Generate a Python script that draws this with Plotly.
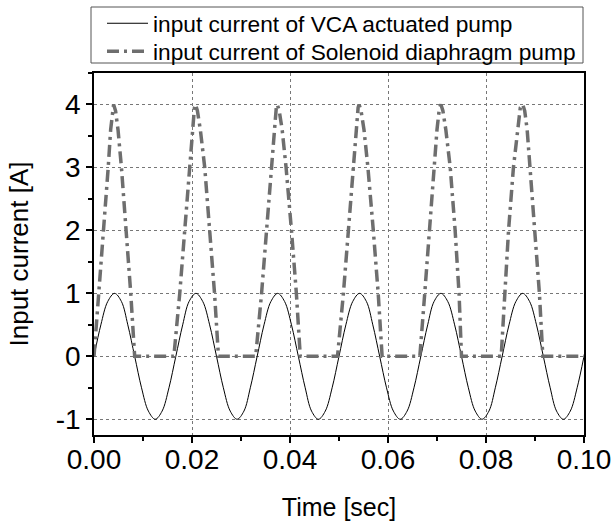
import plotly.graph_objects as go

# ---- data ----
time_vca = [0.0000, 0.0014, 0.0028, 0.0042, 0.0056, 0.0069, 0.0083, 0.0097, 0.0111, 0.0125,
            0.0139, 0.0153, 0.0167, 0.0181, 0.0194, 0.0208, 0.0222, 0.0236, 0.0250, 0.0264,
            0.0278, 0.0292, 0.0306, 0.0319, 0.0333, 0.0347, 0.0361, 0.0375, 0.0389, 0.0403,
            0.0417, 0.0431, 0.0444, 0.0458, 0.0472, 0.0486, 0.0500, 0.0514, 0.0528, 0.0542,
            0.0556, 0.0569, 0.0583, 0.0597, 0.0611, 0.0625, 0.0639, 0.0653, 0.0667, 0.0681,
            0.0694, 0.0708, 0.0722, 0.0736, 0.0750, 0.0764, 0.0778, 0.0792, 0.0806, 0.0819,
            0.0833, 0.0847, 0.0861, 0.0875, 0.0889, 0.0903, 0.0917, 0.0931, 0.0944, 0.0958,
            0.0972, 0.0986, 0.1000]
current_vca = [0, 0.5, 0.87, 1, 0.87, 0.5, 0, -0.5, -0.87, -1, -0.87, -0.5,
               0, 0.5, 0.87, 1, 0.87, 0.5, 0, -0.5, -0.87, -1, -0.87, -0.5,
               0, 0.5, 0.87, 1, 0.87, 0.5, 0, -0.5, -0.87, -1, -0.87, -0.5,
               0, 0.5, 0.87, 1, 0.87, 0.5, 0, -0.5, -0.87, -1, -0.87, -0.5,
               0, 0.5, 0.87, 1, 0.87, 0.5, 0, -0.5, -0.87, -1, -0.87, -0.5,
               0, 0.5, 0.87, 1, 0.87, 0.5, 0, -0.5, -0.87, -1, -0.87, -0.5,
               0]

time_sol = [0.0000, 0.0010, 0.0019, 0.0029, 0.0034, 0.0038, 0.0040, 0.0044, 0.0049, 0.0056, 0.0066, 0.0075, 0.0083,
            0.0163, 0.0175, 0.0185, 0.0195, 0.0201, 0.0205, 0.0207, 0.0211, 0.0217, 0.0226, 0.0236, 0.0246, 0.0254,
            0.0330, 0.0342, 0.0352, 0.0362, 0.0368, 0.0372, 0.0374, 0.0378, 0.0384, 0.0392, 0.0403, 0.0413, 0.0421,
            0.0497, 0.0509, 0.0519, 0.0529, 0.0535, 0.0539, 0.0541, 0.0545, 0.0551, 0.0559, 0.0570, 0.0580, 0.0588,
            0.0665, 0.0675, 0.0684, 0.0693, 0.0700, 0.0705, 0.0708, 0.0712, 0.0718, 0.0727, 0.0737, 0.0745, 0.0750,
            0.0831, 0.0839, 0.0846, 0.0856, 0.0864, 0.0870, 0.0875, 0.0879, 0.0884, 0.0890, 0.0900, 0.0909, 0.0916,
            0.1000]
current_sol = [0, 1, 2, 3, 3.6, 3.95, 4, 3.9, 3.6, 3, 2, 1, 0,
               0, 1, 2, 3, 3.6, 3.95, 4, 3.9, 3.6, 3, 2, 1, 0,
               0, 1, 2, 3, 3.6, 3.95, 4, 3.9, 3.6, 3, 2, 1, 0,
               0, 1, 2, 3, 3.6, 3.95, 4, 3.9, 3.6, 3, 2, 1, 0,
               0, 1, 2, 3, 3.6, 3.95, 4, 3.9, 3.6, 3, 2, 1, 0,
               0, 1, 2, 3, 3.6, 3.95, 4, 3.9, 3.6, 3, 2, 1, 0,
               0]

series_names = ["input current of VCA actuated pump", "input current of Solenoid diaphragm pump"]
y_tick_vals = [-1, 0, 1, 2, 3, 4]
y_tick_text = ["-1", "0", "1", "2", "3", "4"]
x_tick_vals = [0.00, 0.02, 0.04, 0.06, 0.08, 0.10]
x_tick_text = ["0.00", "0.02", "0.04", "0.06", "0.08", "0.10"]

FONT = "Liberation Sans, Arial, sans-serif"

fig = go.Figure()
fig.add_trace(go.Scatter(x=time_vca, y=current_vca, mode="lines", name=series_names[0],
                         legend="legend",
                         line=dict(color="black", width=1, shape="spline", smoothing=1)))
fig.add_trace(go.Scatter(x=time_sol, y=current_sol, mode="lines", name=series_names[1],
                         legend="legend2",
                         line=dict(color="#6e6e6e", width=3.5, dash="12px,5px,3px,5px")))

W, H = 613, 521
L, R, T, B = 94, 29, 73, 86
pw, ph = W - L - R, H - T - B

def px_x(p):
    return (p - L) / pw

def px_y(p):
    return (H - B - p) / ph

fig.add_shape(type="rect", xref="paper", yref="paper",
              x0=px_x(91), x1=px_x(583), y0=px_y(63), y1=px_y(7),
              line=dict(color="#555555", width=1), fillcolor="white", layer="below")

axis_common = dict(showline=True, linecolor="black", linewidth=1.5, mirror=True,
                   ticks="outside", ticklen=6, tickwidth=1.5, tickcolor="black",
                   showgrid=True, gridcolor="#777777", griddash="dot", gridwidth=1,
                   zeroline=False, tickfont=dict(family=FONT, size=28, color="black"))

fig.update_xaxes(range=[0, 0.1], tickvals=x_tick_vals, ticktext=x_tick_text,
                 ticklabelstandoff=-7,
                 minor=dict(ticks="outside", ticklen=4, dtick=0.01, tickcolor="black", showgrid=False),
                 title=dict(text="Time [sec]", font=dict(family=FONT, size=25, color="black"), standoff=24),
                 **axis_common)
fig.update_yaxes(range=[-1.25, 4.5], tickvals=y_tick_vals, ticktext=y_tick_text,
                 minor=dict(ticks="outside", ticklen=4, tick0=0, dtick=0.5, tickcolor="black", showgrid=False),
                 title=dict(text="Input current [A]", font=dict(family=FONT, size=26, color="black"), standoff=20),
                 **axis_common)

leg_common = dict(x=px_x(102), xanchor="left", yanchor="top",
                  bgcolor="rgba(0,0,0,0)", borderwidth=0, itemwidth=41,
                  font=dict(family=FONT, size=22.7, color="black"))

fig.update_layout(
    width=W, height=H,
    margin=dict(l=L, r=R, t=T, b=B, autoexpand=False),
    paper_bgcolor="white", plot_bgcolor="white",
    font=dict(family=FONT, color="black"),
    showlegend=True,
    legend=dict(y=px_y(2), **leg_common),
    legend2=dict(y=px_y(30), **leg_common),
)

fig.write_html("out.html", config={"displayModeBar": False},
               post_script="document.body.style.margin='0px';document.body.style.overflow='hidden';")
